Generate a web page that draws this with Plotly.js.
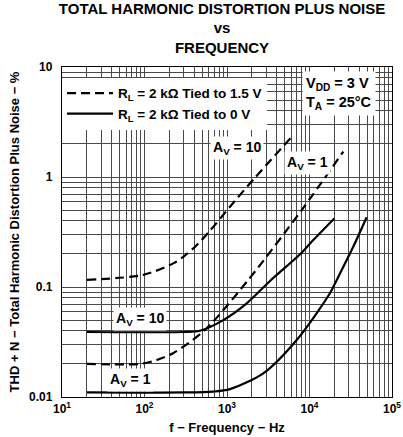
<!DOCTYPE html>
<html><head><meta charset="utf-8">
<script src="https://cdn.plot.ly/plotly-3.0.1.min.js"></script>
<style>html,body{margin:0;padding:0;background:#fff;}#chart{width:403px;height:437px;}</style>
</head><body><div id="chart"></div>
<script>
// RL = 2 kOhm tied to 1.5 V (dashed)
const freqDashAv10 = [20, 97, 223, 295, 429, 622, 1087, 2065, 6100];
const thdDashAv10  = [0.116, 0.129, 0.164, 0.188, 0.24, 0.325, 0.537, 0.94, 2.32];
const freqDashAv1  = [20, 88, 141, 222, 541, 1811, 8040, 25700];
const thdDashAv1   = [0.02, 0.02, 0.0217, 0.025, 0.0407, 0.116, 0.5, 1.70];
// RL = 2 kOhm tied to 0 V (solid)
const freqSolidAv10 = [20, 300, 470, 900, 1734, 3320, 8040, 11100, 20000];
const thdSolidAv10  = [0.039, 0.039, 0.04, 0.05, 0.071, 0.1135, 0.205, 0.267, 0.42];
const freqSolidAv1  = [20, 300, 676, 1087, 2750, 7000, 17700, 21400, 33900, 49300];
const thdSolidAv1   = [0.011, 0.011, 0.0112, 0.0118, 0.0164, 0.033, 0.0877, 0.116, 0.232, 0.43];

const xTickVals = [10, 100, 1000, 10000, 100000];
const xTickText = ['10<sup>1</sup>', '10<sup>2</sup>', '10<sup>3</sup>', '10<sup>4</sup>', '10<sup>5</sup>'];
const yTickVals = [0.01, 0.1, 1, 10];
const yTickText = ['0.01', '0.1', '1', '10'];
const legendNames = ['R<sub>L</sub> = 2 kΩ Tied to 1.5 V', 'R<sub>L</sub> = 2 kΩ Tied to 0 V'];

// minor grid positions (2..9 within each decade)
function minorVals(decades) {
  const v = [];
  for (let i = 0; i < decades.length - 1; i++)
    for (let m = 2; m <= 9; m++) v.push(m * decades[i]);
  return v;
}

const FONT = 'Liberation Sans, Arial, Helvetica, sans-serif';
const GRID = '#4a4a4a';
const lineStyle = (dash) => ({color: '#000', width: 2.2, dash: dash, shape: 'spline', smoothing: 0.8});

const traces = [
  {x: freqDashAv10, y: thdDashAv10, mode: 'lines', line: lineStyle('9px,5px'), name: legendNames[0], legendgroup: 'a', showlegend: true},
  {x: freqDashAv1, y: thdDashAv1, mode: 'lines', line: lineStyle('9px,5px'), name: legendNames[0], legendgroup: 'a', showlegend: false},
  {x: freqSolidAv10, y: thdSolidAv10, mode: 'lines', line: lineStyle('solid'), name: legendNames[1], legendgroup: 'b', showlegend: true},
  {x: freqSolidAv1, y: thdSolidAv1, mode: 'lines', line: lineStyle('solid'), name: legendNames[1], legendgroup: 'b', showlegend: false}
];

const labelFont = {family: FONT, size: 14, color: '#000', weight: 'bold'};
const ann = (x, y, text) => ({x: x, y: y, xref: 'x', yref: 'y', text: text, showarrow: false,
  bgcolor: '#fff', borderpad: 2, font: labelFont, xanchor: 'center', yanchor: 'middle'});

const layout = {
  width: 403, height: 437,
  margin: {l: 62, r: 11, t: 67, b: 40},
  paper_bgcolor: '#fff', plot_bgcolor: '#fff',
  font: {family: FONT, size: 12, color: '#000'},
  title: {text: 'TOTAL HARMONIC DISTORTION PLUS NOISE<br>vs<br>FREQUENCY',
    font: {family: FONT, size: 15, color: '#000', weight: 'bold'},
    xref: 'paper', x: 0.485, xanchor: 'center', yref: 'container', y: 0.969, yanchor: 'top'},
  xaxis: {type: 'log', range: [1, 5], tickmode: 'array', tickvals: xTickVals, ticktext: xTickText,
    showgrid: true, gridcolor: GRID, gridwidth: 1, ticks: '', showline: true, mirror: true,
    linecolor: '#000', linewidth: 1.2, zeroline: false,
    minor: {tickmode: 'array', tickvals: minorVals(xTickVals), showgrid: true, gridcolor: GRID, gridwidth: 1, ticks: ''},
    tickfont: {family: FONT, size: 12, weight: 'bold'},
    title: {text: 'f − Frequency − Hz', font: {family: FONT, size: 13, weight: 'bold'}, standoff: 8}},
  yaxis: {type: 'log', range: [-2, 1], tickmode: 'array', tickvals: yTickVals, ticktext: yTickText,
    showgrid: true, gridcolor: GRID, gridwidth: 1, ticks: '', showline: true, mirror: true,
    linecolor: '#000', linewidth: 1.2, zeroline: false, ticklabelstandoff: 6,
    minor: {tickmode: 'array', tickvals: minorVals(yTickVals), showgrid: true, gridcolor: GRID, gridwidth: 1, ticks: ''},
    tickfont: {family: FONT, size: 12, weight: 'bold'},
    title: {text: 'THD + N − Total Harmonic Distortion Plus Noise − %', font: {family: FONT, size: 13, weight: 'bold'}, standoff: 6}},
  showlegend: true,
  legend: {x: 0, y: 0.967, xanchor: 'left', yanchor: 'top', bgcolor: '#fff', borderwidth: 0,
    font: {family: FONT, size: 13.5, color: '#000', weight: 'bold'}, tracegroupgap: 0, itemwidth: 46},
  annotations: [
    ann(3.121, 0.264, 'A<sub>V</sub> = 10'),
    ann(3.97, 0.127, 'A<sub>V</sub> = 1'),
    ann(1.945, -1.291, 'A<sub>V</sub> = 10'),
    ann(1.836, -1.845, 'A<sub>V</sub> = 1'),
    {xref: 'paper', yref: 'paper', x: 0.728, y: 0.921, xanchor: 'left', yanchor: 'middle', showarrow: false,
     align: 'left', bgcolor: '#fff', borderpad: 3, font: {family: FONT, size: 14.5, color: '#000', weight: 'bold'},
     text: 'V<sub>DD</sub> = 3 V<br>T<sub>A</sub> = 25°C'}
  ]
};

Plotly.newPlot('chart', traces, layout, {displayModeBar: false, staticPlot: true});
</script>
</body></html>
